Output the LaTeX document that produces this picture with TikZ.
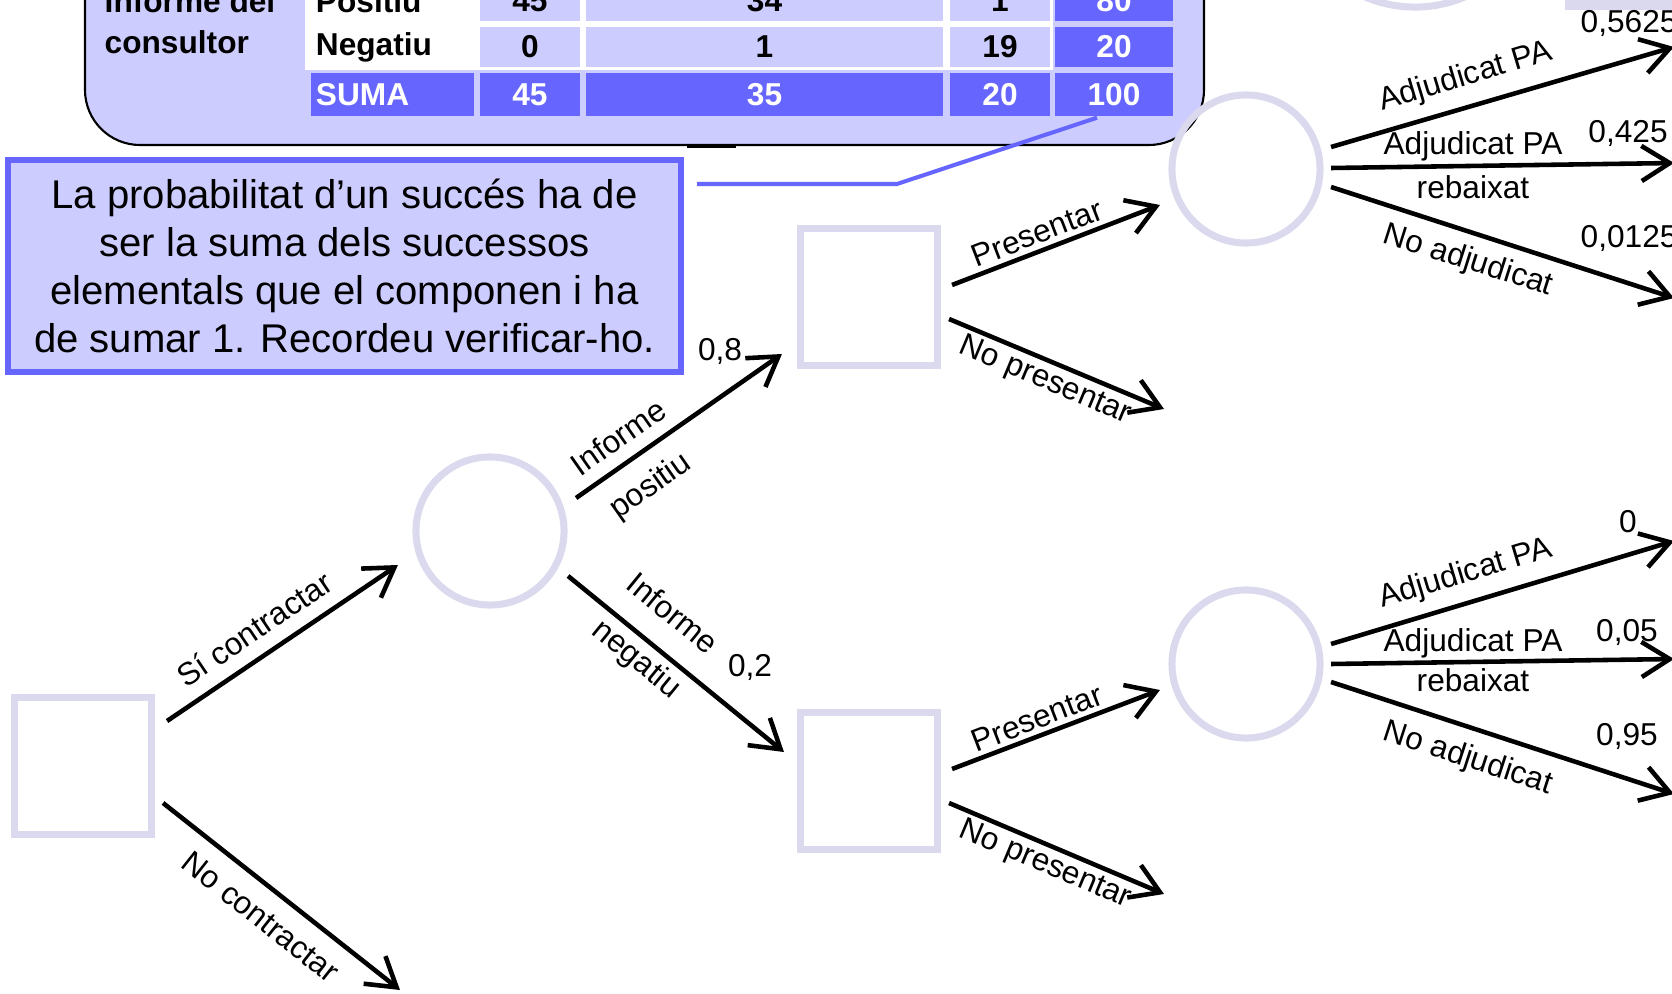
\documentclass[tikz,border=0pt]{standalone}
\usepackage{fontspec}
\setmainfont{Liberation Sans}
\usetikzlibrary{arrows.meta}
\definecolor{lilac}{HTML}{DAD9EE}
\definecolor{pale}{HTML}{CCCCFF}
\definecolor{deep}{HTML}{6666FF}

\begin{document}
\begin{tikzpicture}[x=0.01cm,y=-0.01cm,
  decision/.style={draw=lilac,line width=2pt,minimum size=1.36cm,inner sep=0},
  chance/.style={draw=lilac,line width=2pt,circle,minimum size=1.48cm,inner sep=0},
  branch/.style={line width=1.3pt,-{Straight Barb[length=8pt,width=10pt]}},
  lbl/.style={font=\fontsize{9}{10.8}\selectfont,inner sep=0},
  cell/.style={font=\fontsize{9}{10.8}\selectfont\bfseries,inner sep=0,minimum height=0.40cm},
  namecell/.style={cell,fill=white,minimum width=1.63cm,text width=1.53cm,align=left},
  numcell/.style={cell,fill=pale},
  sumcell/.style={cell,fill=deep,text=white},
  note/.style={draw=deep,fill=pale,line width=1.7pt,minimum width=6.73cm,minimum height=2.12cm,
    align=center,inner sep=0,font=\fontsize{11.4}{13.66}\selectfont}]
  \useasboundingbox (0,0) rectangle (1672,994);

  % Consultant table, cut by the top edge
  \draw[line width=0.6pt,fill=pale,rounded corners=0.55cm]
    (85,-200) -- (85,145) -- (1204,145) -- (1204,-200);
  \draw[line width=0.9pt] (687,146) -- (736,146);
  \node[cell,anchor=west,align=left,font=\fontsize{9}{11.7}\selectfont\bfseries] (consultant)
    at (104,21.5) {Informe del\\consultor};
  \fill[white] (305,-25) rectangle (1053,70);
  \node[namecell] (posHead) at (392.5,1) {Positiu};
  \node[namecell] (negHead) at (392.5,47) {Negatiu};
  \node[sumcell,minimum width=1.63cm,text width=1.53cm,align=left,minimum height=0.43cm]
    (sumHead) at (392.5,94.5) {SUMA};
  \foreach \n/\x/\w/\p/\q/\s in {A/530/1.00/45/0/45,B/764.5/3.57/34/1/35,C/1000/1.00/1/19/20}{
    \node[numcell,minimum width=\w cm] (pos\n) at (\x,1) {\p};
    \node[numcell,minimum width=\w cm] (neg\n) at (\x,47) {\q};
    \node[sumcell,minimum width=\w cm,minimum height=0.43cm] (sum\n) at (\x,94.5) {\s};
  }
  \node[sumcell,minimum width=1.18cm] (posTotal) at (1114,1) {80};
  \node[sumcell,minimum width=1.18cm] (negTotal) at (1114,47) {20};
  \node[sumcell,minimum width=1.18cm,minimum height=0.43cm] (sumTotal) at (1114,94.5) {100};

  % Remark and its pointer
  \node[note] (note) at (344.5,266)
    {La probabilitat d’un succés ha de\\ser la suma dels successos\\elementals que el componen i ha\\de sumar 1. Recordeu verificar-ho.};
  \draw[deep,line width=1.15pt] ([shift={(-17,1)}]sumTotal.south) -- (897,184)
    -- ([shift={(13,-82)}]note.east);

  % Pieces of the tree above the picture
  \draw[lilac,line width=2pt] (1415,-120) circle[radius=1.27cm];
  \fill[lilac] (1565,-20) rectangle (1680,10);

  % Decision and chance nodes
  \node[decision] (root) at (83,766) {};
  \node[chance] (report) at (490,531) {};
  \node[decision] (bidPos) at (869,297) {};
  \node[decision] (bidNeg) at (869,781) {};
  \node[chance] (awardPos) at (1246,169) {};
  \node[chance] (awardNeg) at (1246,664) {};
  \coordinate (noHire) at (400,990);
  \coordinate (noBidPos) at (1164,409);
  \coordinate (noBidNeg) at (1164,894);
  \coordinate (fullPos) at (1674,47);
  \coordinate (cutPos) at (1674,163);
  \coordinate (lostPos) at (1674,298);
  \coordinate (fullNeg) at (1674,541);
  \coordinate (cutNeg) at (1674,659);
  \coordinate (lostNeg) at (1674,794);

  % Branches
  \draw[branch] ([shift={(12.5,-45)}]root.east) -- ([shift={(-14.5,34)}]report.west);
  \draw[branch] ([shift={(8.5,37)}]root.east) -- (noHire);
  \draw[branch] ([shift={(8.5,-33)}]report.east) -- ([shift={(-15.5,57)}]bidPos.west);
  \draw[branch] ([shift={(0.5,45)}]report.east) -- ([shift={(-13.5,-29)}]bidNeg.west);
  \draw[branch] ([shift={(11.5,-12)}]bidPos.east) -- ([shift={(-8.5,36)}]awardPos.west);
  \draw[branch] ([shift={(8.5,22)}]bidPos.east) -- (noBidPos);
  \draw[branch] ([shift={(11.5,-12)}]bidNeg.east) -- ([shift={(-8.5,26)}]awardNeg.west);
  \draw[branch] ([shift={(8.5,22)}]bidNeg.east) -- (noBidNeg);
  \foreach \dy/\e in {-22/fullPos,-1/cutPos,18/lostPos}
    \draw[branch] ([shift={(7.5,\dy)}]awardPos.east) -- (\e);
  \foreach \dy/\e in {-20/fullNeg,0/cutNeg,18/lostNeg}
    \draw[branch] ([shift={(7.5,\dy)}]awardNeg.east) -- (\e);

  % Branch labels
  \node[lbl,rotate=34] (hireLbl) at (254,629) {Sí contractar};
  \node[lbl,rotate=-38.3] (noHireLbl) at (261,917) {No contractar};
  \node[lbl,rotate=35] (posLblA) at (618,437) {Informe};
  \node[lbl,rotate=35] (posLblB) at (651,487) {positiu};
  \node[lbl] (posProb) at (720,351) {0,8};
  \node[lbl,rotate=-39.2] (negLblA) at (673,613) {Informe};
  \node[lbl,rotate=-39.2] (negLblB) at (636,660) {negatiu};
  \node[lbl] (negProb) at (750,667) {0,2};
  \node[lbl,rotate=21] (bidPosLbl) at (1037,233) {Presentar};
  \node[lbl,rotate=-22.7] (noBidPosLbl) at (1045,381) {No presentar};
  \node[lbl,rotate=21] (bidNegLbl) at (1037,718) {Presentar};
  \node[lbl,rotate=-22.7] (noBidNegLbl) at (1045,865) {No presentar};
  \node[lbl,rotate=16.6] (fullPosLbl) at (1466,77) {Adjudicat PA};
  \node[lbl] (cutPosLbl) at (1473,146) {Adjudicat PA};
  \node[lbl] (cutPosLblB) at (1473,187) {rebaixat};
  \node[lbl,rotate=-17.6] (lostPosLbl) at (1468,261) {No adjudicat};
  \node[lbl,rotate=16.7] (fullNegLbl) at (1466,574) {Adjudicat PA};
  \node[lbl] (cutNegLbl) at (1473,643) {Adjudicat PA};
  \node[lbl] (cutNegLblB) at (1473,680) {rebaixat};
  \node[lbl,rotate=-18] (lostNegLbl) at (1468,759) {No adjudicat};

  % Probabilities at the right edge
  \node[lbl,anchor=west] (fullPosProb) at (1580,23) {0,5625};
  \node[lbl] (cutPosProb) at (1628,133) {0,425};
  \node[lbl,anchor=west] (lostPosProb) at (1580,238) {0,0125};
  \node[lbl] (fullNegProb) at (1628,522) {0};
  \node[lbl] (cutNegProb) at (1627,632) {0,05};
  \node[lbl] (lostNegProb) at (1627,736) {0,95};
\end{tikzpicture}
\end{document}
